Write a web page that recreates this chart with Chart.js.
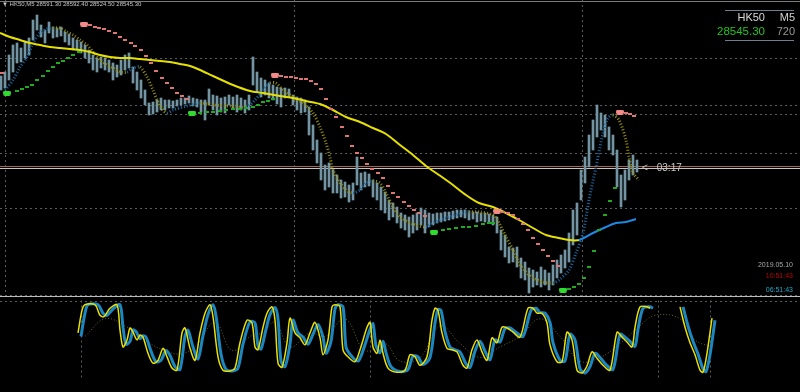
<!DOCTYPE html>
<html>
<head>
<meta charset="utf-8">
<script src="https://cdn.jsdelivr.net/npm/chart.js@4/dist/chart.umd.min.js"></script>
<style>
  body { margin: 0; background: #000; }
  #wrap { position: relative; width: 800px; height: 392px; overflow: hidden; background: #000; font-family: "Liberation Sans", Arial, sans-serif; }
  canvas { position: absolute; left: 0; }
  .t { position: absolute; white-space: nowrap; }
  .hl { position: absolute; height: 1px; }
</style>
</head>
<body>
<div id="wrap">
  <canvas id="mainChart" width="800" height="297" style="top:0"></canvas>
  <canvas id="oscChart" width="800" height="95" style="top:297px"></canvas>

  <div class="hl" style="left:0;top:1px;width:800px;background:#7a7a7a"></div>
  <div class="hl" style="left:0;top:296px;width:800px;background:#bdbdbd"></div>

  <div class="t" style="left:2px;top:1px;font-size:6px;line-height:6px;color:#c8c8c8">▼ HK50,M5 28591.30 28592.40 28524.50 28545.30</div>

  <div class="hl" style="left:725px;top:10px;width:69px;background:#6f7f8f"></div>
  <div class="t" style="right:35px;top:12px;font-size:11px;line-height:11px;color:#d8d8d8">HK50</div>
  <div class="t" style="right:5px;top:12px;font-size:11px;line-height:11px;color:#d0d0d0">M5</div>
  <div class="t" style="right:35px;top:26px;font-size:11.5px;line-height:11px;color:#22c122">28545.30</div>
  <div class="t" style="right:5px;top:26px;font-size:11px;line-height:11px;color:#9a9a9a">720</div>
  <div class="hl" style="left:725px;top:40px;width:69px;background:#6f7f8f"></div>

  <div class="t" style="left:642px;top:163px;font-size:10px;line-height:10px;color:#c8c8c8">&lt;–-03:17</div>

  <div class="t" style="right:7px;top:261px;font-size:7px;line-height:7px;color:#a8a8a8">2019.05.10</div>
  <div class="t" style="right:7px;top:272px;font-size:7px;line-height:7px;color:#c00000">10:51:43</div>
  <div class="t" style="right:7px;top:286px;font-size:7px;line-height:7px;color:#1fa8c8">06:51:43</div>
</div>

<script>
// ---- price panel data (bar number on x, price on y) ----
const candleStep = 4;
const candleHigh = [
  28730,28738,28772,28792,28796,28786,28798,28806,28842,28852,
  28832,28822,28838,28828,28826,28828,28818,28814,28806,28802,
  28798,28792,28782,28772,28766,28768,28766,28762,28756,28752,
  28762,28772,28776,28748,28738,28722,28702,28676,28678,28682,
  28686,28682,28682,28680,28682,28686,28686,28690,28686,28684,
  28682,28682,28704,28692,28690,28686,28688,28692,28688,28692,
  28686,28682,28692,28768,28738,28726,28722,28716,28712,28708,
  28706,28706,28704,28692,28688,28686,28682,28668,28632,28602,
  28576,28552,28556,28542,28532,28522,28518,28512,28516,28568,
  28536,28538,28534,28522,28516,28508,28498,28482,28476,28468,
  28456,28452,28448,28452,28456,28466,28462,28456,28454,28456,
  28456,28458,28458,28460,28462,28462,28462,28460,28458,28458,
  28456,28456,28454,28452,28448,28422,28412,28388,28386,28388,
  28366,28358,28346,28342,28338,28348,28342,28336,28352,28362,
  28372,28382,28416,28462,28476,28542,28568,28612,28642,28672,
  28656,28652,28628,28612,28582,28532,28542,28562,28572,28562
];
const candleLow = [
  28702,28706,28722,28738,28756,28758,28766,28772,28802,28822,
  28808,28796,28816,28806,28808,28810,28798,28792,28782,28782,
  28776,28766,28756,28742,28738,28746,28742,28738,28722,28728,
  28732,28742,28746,28716,28702,28686,28672,28652,28654,28658,
  28662,28662,28666,28666,28670,28672,28674,28676,28670,28668,
  28658,28642,28672,28662,28652,28658,28656,28672,28666,28658,
  28662,28656,28662,28712,28698,28688,28692,28686,28682,28674,
  28668,28686,28688,28672,28662,28656,28658,28612,28582,28556,
  28522,28502,28508,28496,28496,28486,28488,28478,28482,28512,
  28502,28508,28510,28488,28482,28462,28456,28442,28448,28436,
  28426,28422,28408,28416,28422,28432,28416,28428,28432,28436,
  28438,28440,28442,28444,28446,28448,28446,28442,28444,28438,
  28440,28438,28438,28432,28416,28382,28368,28356,28358,28348,
  28326,28322,28296,28308,28312,28308,28312,28302,28312,28326,
  28336,28346,28358,28392,28412,28482,28516,28548,28582,28608,
  28622,28608,28582,28572,28508,28468,28482,28522,28532,28538
];

const maX = [0,10,20,30,40,50,60,70,80,90,100,110,120,130,140,150,160,170,180,190,200,
  213,233,250,263,280,293,306,320,333,346,360,373,386,400,413,426,439,453,466,479,
  493,506,519,533,546,559,569,579,593,606,616,626,636];
const maVal = [28816,28808,28802,28796,28792,28788,28786,28784,28782,28778,28772,28768,28766,28766,28764,28762,28760,28758,28754,28750,28742,
  28730,28712,28700,28696,28690,28686,28680,28674,28662,28648,28638,28626,28614,28592,28572,28550,28532,28512,28492,28476,
  28468,28456,28442,28426,28412,28406,28402,28402,28416,28428,28436,28438,28444];

const bandX = [5,13,20,27,33,40,47,53,60,67,73,80,87,93,100,107,113,120,127,133,
  140,147,153,158,163,167,173,187,200,213,230,246,255,263,270,276,283,293,303,313,
  320,326,330,333,340,346,353,360,366,373,380,386,393,400,413,426,433,446,459,469,
  479,493,499,506,513,519,526,533,543,553,559,569,576,583,589,596,603,608,613,619,
  626,629,633,639];
const bandVal = [28702,28722,28748,28768,28796,28816,28824,28826,28826,28818,28812,28802,28792,28778,28762,28752,28746,28738,28738,28746,
  28748,28728,28702,28678,28662,28656,28662,28670,28676,28672,28670,28668,28682,28702,28716,28716,28702,28688,28676,28656,
  28628,28596,28568,28542,28516,28502,28496,28502,28516,28520,28516,28496,28468,28448,28434,28428,28436,28446,28454,28458,
  28458,28452,28436,28408,28382,28356,28338,28326,28318,28316,28322,28342,28376,28416,28482,28548,28616,28646,28652,28642,
  28602,28568,28536,28522];

const sarRedX = [2, 90,95,99,104,109,115,120,125,131,135,141,146,151,156,162,167,172,177,182,187,
  281,286,291,296,301,306,311,316,321,326,331,336,342,347,352,357,362,367,372,378,383,388,393,398,404,409,414,419,425,
  503,508,513,518,523,528,533,538,543,548,553,558, 626,630,634];
const sarRedVal = [28736, 28832,28828,28826,28824,28820,28816,28808,28802,28796,28790,28782,28770,28756,28740,28726,28716,28706,28696,28690,28684,
  28730,28728,28728,28726,28724,28724,28720,28714,28704,28684,28664,28648,28628,28610,28590,28576,28566,28554,28544,28536,28526,28510,28496,28488,28478,28470,28462,28456,28450,
  28458,28456,28452,28444,28434,28422,28406,28394,28382,28370,28360,28350, 28656,28654,28650];
const sarRedStartX = [84, 275, 497, 620];
const sarRedStartVal = [28834, 28732, 28460, 28658];

const sarGreenX = [17,22,27,32,37,43,48,53,58,63,68,73,79,
  200,207,213,220,226,233,240,246,253,258,263,268,273,
  443,449,456,463,469,476,483,489,493,
  569,574,579,584,589,594,599,605,610,615];
const sarGreenVal = [28700,28704,28708,28712,28722,28730,28740,28748,28756,28760,28766,28772,28778,
  28656,28658,28658,28660,28662,28664,28664,28666,28668,28672,28678,28680,28684,
  28422,28424,28426,28428,28428,28430,28434,28436,28436,
  28304,28308,28314,28326,28348,28380,28422,28452,28480,28506];
const sarGreenStartX = [7, 192, 434, 563];
const sarGreenStartVal = [28696, 28656, 28418, 28302];

const levelPrices = [28766, 28672, 28654, 28576, 28466, 28292];
const askPrice = 28551;
const bidPrice = 28545.3;
const daySeparators = [5, 294, 582];

// ---- oscillator panel data ----
const oscX = [78,82,85,95,100,104,110,117,120,123,127,130,133,137,140,143,148,153,158,163,
  167,172,177,182,185,190,195,200,205,210,213,218,223,230,235,240,247,252,255,258,
  263,267,272,275,278,282,287,290,295,300,305,310,315,320,323,328,332,335,340,343,
  348,355,360,367,370,373,377,380,383,388,397,405,410,415,420,427,432,435,438,442,
  447,452,457,463,467,472,477,482,487,492,497,502,507,513,520,528,533,537,542,547,
  550,557,562,567,572,577,582,587,592,597,603,610,617,622,627,632,635,640,647,650,
  665,680,685,690,695,700,703,707,712];
const oscMain = [60,92,100,100,85,83,95,100,64,40,50,67,61,50,57,54,31,17,21,38,
  26,10,7,60,67,38,21,60,88,100,83,26,7,6,10,46,78,74,40,36,
  68,88,97,78,17,11,46,81,60,53,43,60,75,53,29,50,97,100,97,36,
  26,19,36,68,75,40,31,50,31,10,4,7,29,26,14,26,78,95,92,60,
  38,36,33,14,10,36,50,33,21,53,46,68,67,61,54,95,95,88,88,74,
  43,19,19,61,50,7,3,13,33,24,14,7,61,54,47,40,68,97,97,95,
  null,97,68,46,29,7,4,31,81];
const oscSignalX = [81,85,88,98,103,107,113,120,123,126,130,133,136,140,143,146,151,156,161,166,
  170,175,180,185,188,193,198,203,208,213,216,221,226,233,238,243,250,255,258,261,
  266,270,275,278,281,285,290,293,298,303,308,313,318,323,326,331,335,338,343,346,
  351,358,363,370,373,376,380,383,386,391,400,408,413,418,423,430,435,438,441,445,
  450,455,460,466,470,475,480,485,490,495,500,505,510,516,523,531,536,540,545,550,
  553,560,565,570,575,580,585,590,595,600,606,613,620,625,630,635,638,643,650,653,
  668,683,688,693,698,703,706,710,715];
const oscSignal = [55,88,100,100,88,85,94,100,68,44,48,64,62,52,56,54,34,19,21,35,
  28,12,8,55,64,40,23,56,86,100,84,30,8,6,10,44,76,74,42,37,
  65,86,96,80,20,12,44,78,60,54,44,58,72,54,31,48,94,100,97,40,
  28,20,35,65,73,42,32,48,32,12,5,8,27,26,15,25,74,93,92,62,
  40,36,33,16,11,34,48,34,22,50,47,66,67,61,55,92,95,89,88,75,
  46,21,20,58,50,9,3,12,31,25,15,8,58,54,48,41,65,95,97,95,
  null,97,70,48,30,9,5,29,78];
const oscSlowX = [85,105,125,150,165,180,195,215,232,250,262,275,290,310,325,345,365,385,400,420,
  440,460,480,500,520,540,560,580,600,620,640,655,680,695,712];
const oscSlow = [55,80,70,45,35,30,40,75,35,55,60,75,40,60,55,80,35,45,20,25,
  70,45,25,40,55,80,55,20,25,45,70,85,80,50,40];
const oscLevels = [105];
const oscSeparators = [81, 370, 658, 710];

const pts = (xs, ys) => xs.map((x, i) => ({ x: x, y: ys[i] }));

function pill(color) {
  const c = document.createElement("canvas");
  c.width = 8; c.height = 5;
  const g = c.getContext("2d");
  g.fillStyle = color;
  g.beginPath();
  g.roundRect(0, 0, 8, 5, 2);
  g.fill();
  return c;
}

// dashed levels / separators, drawn under the data
const levelLines = {
  id: "levelLines",
  beforeDatasetsDraw(chart, args, opts) {
    const { ctx, chartArea, scales: { x, y } } = chart;
    ctx.save();
    ctx.lineWidth = 1;
    ctx.setLineDash([2, 3]);
    ctx.strokeStyle = "#5c5c5c";
    (opts.hLevels || []).forEach(v => {
      const py = Math.round(y.getPixelForValue(v)) + 0.5;
      ctx.beginPath(); ctx.moveTo(chartArea.left, py); ctx.lineTo(chartArea.right, py); ctx.stroke();
    });
    const top = y.getPixelForValue(opts.vTop ?? y.max);
    const bottom = y.getPixelForValue(opts.vBottom ?? y.min);
    (opts.vBars || []).forEach(b => {
      const px = Math.round(x.getPixelForValue(b)) + 0.5;
      ctx.beginPath(); ctx.moveTo(px, top); ctx.lineTo(px, bottom); ctx.stroke();
    });
    ctx.setLineDash([]);
    (opts.solid || []).forEach(s => {
      const py = Math.round(y.getPixelForValue(s.value)) + 0.5;
      ctx.strokeStyle = s.color;
      ctx.beginPath(); ctx.moveTo(chartArea.left, py); ctx.lineTo(chartArea.right, py); ctx.stroke();
    });
    ctx.restore();
  }
};

const baseOptions = (yMin, yMax, lines) => ({
  responsive: false,
  animation: false,
  events: [],
  layout: { padding: 0, autoPadding: false },
  plugins: { legend: { display: false }, tooltip: { enabled: false }, levelLines: lines },
  scales: {
    x: { type: "linear", min: 0, max: 800, display: false, offset: false },
    y: { type: "linear", min: yMin, max: yMax, display: false }
  }
});

// Price panel
new Chart(document.getElementById("mainChart"), {
  type: "line",
  data: {
    datasets: [
      {
        type: "bar",
        data: candleHigh.map((h, i) => ({ x: 1 + i * candleStep, y: [candleLow[i], h] })),
        backgroundColor: "#7394a3",
        borderWidth: 0,
        barThickness: 2,
        order: 5
      },
      {
        data: pts(bandX, bandVal),
        borderWidth: 3,
        borderDash: [1, 2],
        pointRadius: 0,
        tension: 0.3,
        segment: { borderColor: c => c.p1.parsed.y > c.p0.parsed.y ? "#1a6aa4" : "#958d00" },
        order: 4
      },
      {
        data: pts(maX, maVal),
        borderWidth: 2,
        pointRadius: 0,
        tension: 0.3,
        segment: { borderColor: c => c.p1.parsed.y > c.p0.parsed.y ? "#1e88e5" : "#e6e000" },
        order: 3
      },
      {
        data: pts(sarRedX, sarRedVal),
        showLine: false,
        pointStyle: "line",
        pointRadius: 2,
        borderWidth: 2,
        borderColor: "#de7474",
        order: 2
      },
      {
        data: pts(sarGreenX, sarGreenVal),
        showLine: false,
        pointStyle: "line",
        pointRadius: 2,
        borderWidth: 2,
        borderColor: "#1faa1f",
        order: 2
      },
      {
        data: pts(sarRedStartX, sarRedStartVal),
        showLine: false,
        pointStyle: pill("#f58a8a"),
        order: 1
      },
      {
        data: pts(sarGreenStartX, sarGreenStartVal),
        showLine: false,
        pointStyle: pill("#2fdc2f"),
        order: 1
      }
    ]
  },
  options: baseOptions(28288, 28882, {
    hLevels: levelPrices,
    vBars: daySeparators,
    solid: [{ value: askPrice, color: "#a8654c" }, { value: bidPrice, color: "#c4c4c4" }]
  }),
  plugins: [levelLines]
});

// Oscillator panel
new Chart(document.getElementById("oscChart"), {
  type: "line",
  data: {
    datasets: [
      {
        data: pts(oscSlowX, oscSlow),
        borderColor: "#6d6420",
        borderWidth: 1,
        borderDash: [1, 2],
        pointRadius: 0,
        tension: 0.4,
        order: 4
      },
      {
        data: pts(oscSignalX, oscSignal),
        borderColor: "#1c86c0",
        borderWidth: 3,
        pointRadius: 0,
        tension: 0.3,
        order: 3
      },
      {
        data: pts(oscX, oscMain),
        borderColor: "#ece000",
        borderWidth: 1.5,
        pointRadius: 0,
        tension: 0.3,
        order: 2
      }
    ]
  },
  options: baseOptions(-24, 111, {
    hLevels: oscLevels,
    vBars: oscSeparators,
    vTop: 106,
    vBottom: -4
  }),
  plugins: [levelLines]
});
</script>
</body>
</html>
